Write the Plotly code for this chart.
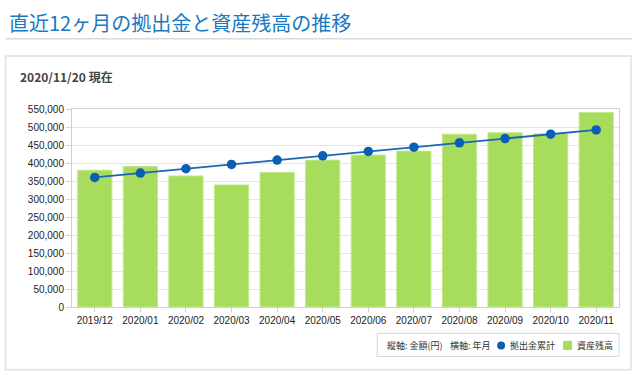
import plotly.graph_objects as go

months = ["2019/12", "2020/01", "2020/02", "2020/03", "2020/04", "2020/05",
          "2020/06", "2020/07", "2020/08", "2020/09", "2020/10", "2020/11"]
asset_balance = [380000, 390000, 364000, 339000, 374000, 408000,
                 422000, 433000, 480000, 484000, 481000, 540000]
contrib_total = [360000, 372000, 384000, 396000, 408000, 420000,
                 432000, 444000, 456000, 468000, 480000, 492000]
y_ticks = list(range(0, 550001, 50000))

W, H = 640, 375
L, R, T, B = 71.5, 21.0, 109.3, 68.3
PW, PH = W - L - R, H - T - B

def px(x):
    return (x - L) / PW

def py(y):
    return (H - B - y) / PH

JP = "Noto Sans CJK JP, Noto Sans, sans-serif"
AR = "Liberation Sans, Arial, sans-serif"

fig = go.Figure()
fig.add_trace(go.Bar(x=months, y=asset_balance, name="資産残高",
                     marker=dict(color="#a8dc5d", line=dict(color="#c3e78f", width=1))))
fig.add_trace(go.Scatter(x=months, y=contrib_total, name="拠出金累計", mode="lines+markers",
                         line=dict(color="#1866b8", width=1.8),
                         marker=dict(color="#0a5fb4", size=9.5)))

shapes = [
    dict(type="line", xref="paper", yref="paper", x0=px(5), x1=px(632), y0=py(39.3), y1=py(39.3),
         line=dict(color="#d9d9d9", width=1.5)),
    dict(type="rect", xref="paper", yref="paper", x0=px(5), x1=px(631), y0=py(56.5), y1=py(369.3),
         line=dict(color="#e0e0e0", width=1.5), layer="below"),
    dict(type="rect", xref="paper", yref="paper", x0=px(377), x1=px(619), y0=py(333), y1=py(356),
         line=dict(color="#d6d6d6", width=1), fillcolor="white"),
    dict(type="circle", xref="paper", yref="paper", x0=px(497), x1=px(505), y0=py(341), y1=py(349),
         line=dict(color="#0a5fb4", width=0), fillcolor="#0a5fb4"),
    dict(type="rect", xref="paper", yref="paper", x0=px(563), x1=px(572), y0=py(340.5), y1=py(349.5),
         line=dict(color="#a8dc5d", width=0), fillcolor="#a8dc5d"),
]

def note(text, x, y, size, color, family=JP):
    return dict(text=text, xref="paper", yref="paper", x=px(x), y=py(y),
                xanchor="left", yanchor="middle", showarrow=False,
                font=dict(family=family, size=size, color=color))

annotations = [
    note("直近12ヶ月の拠出金と資産残高の推移", 6, 23.5, 20, "#1a78c2"),
    note("<b>2020/11/20 現在</b>", 17, 77, 12, "#444444"),
    note("縦軸: 金額(円)", 385, 345, 9, "#333333"),
    note("横軸: 年月", 448, 345, 9, "#333333"),
    note("拠出金累計", 508, 345, 9, "#333333"),
    note("資産残高", 575, 345, 9, "#333333"),
]

fig.update_layout(
    width=W, height=H, autosize=False,
    margin=dict(l=L, r=R, t=T, b=B, pad=0, autoexpand=False),
    paper_bgcolor="white", plot_bgcolor="white",
    showlegend=False, bargap=0.25,
    shapes=shapes, annotations=annotations,
    xaxis=dict(type="category", range=[-0.5, 11.5], tickfont=dict(family=AR, size=10, color="#222222"),
               showline=True, linecolor="#d0d0d0", mirror=True, linewidth=1, automargin=False,
               ticks="outside", ticklen=4, tickcolor="#d0d0d0", showgrid=False),
    yaxis=dict(range=[0, 550000], tickvals=y_ticks, tickformat=",d", automargin=False,
               tickfont=dict(family=AR, size=10, color="#222222"),
               showline=True, linecolor="#d0d0d0", mirror=True, linewidth=1,
               ticks="outside", ticklen=5, tickcolor="#d0d0d0",
               showgrid=True, gridcolor="#e6e6e6", gridwidth=1, zeroline=False),
)

fig.write_html("out.html", config={"displayModeBar": False},
               post_script="document.body.style.margin='0';document.body.style.overflow='hidden';")
